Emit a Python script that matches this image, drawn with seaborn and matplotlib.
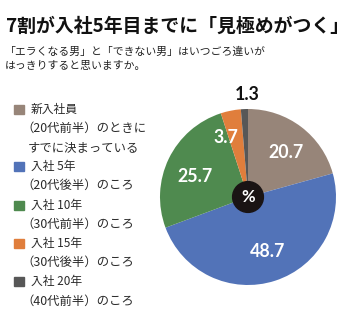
import numpy as np
import matplotlib
matplotlib.use("Agg")
import matplotlib.pyplot as plt
from matplotlib.patches import Rectangle, Circle
import seaborn as sns

# 「エラくなる男」と「できない男」の見極め時期（%）
categories = ["新入社員", "入社 5年", "入社 10年", "入社 15年", "入社 20年"]
sublabels = ["（20代前半）のときに\nすでに決まっている", "（20代後半）のころ",
             "（30代前半）のころ", "（30代後半）のころ", "（40代前半）のころ"]
values = [20.7, 48.7, 25.7, 3.7, 1.3]
colors = ["#978579", "#5273b8", "#4f8a4f", "#e07e3c", "#575757"]

title = "7割が入社5年目までに「見極めがつく」"
subtitle = "「エラくなる男」と「できない男」はいつごろ違いが\nはっきりすると思いますか。"

sns.set_theme(style="white")
plt.rcParams["font.family"] = ["Noto Sans CJK JP", "DejaVu Sans"]

W, H = 350, 324
fig = plt.figure(figsize=(W / 100, H / 100), dpi=100)
fig.patch.set_facecolor("white")


def fx(px):
    return px / W


def fy(py):
    return 1 - py / H


# Title and question
fig.text(fx(6), fy(26), title, fontsize=13.6, fontweight="bold", color="#111111",
         va="center", ha="left")
fig.text(fx(5), fy(59), subtitle, fontsize=7.8, color="#222222", va="center",
         ha="left", linespacing=1.45)

# Pie
cx, cy, r = 248, 197, 88
ax = fig.add_axes([fx(cx - r), fy(cy + r), 2 * r / W, 2 * r / H])
wedges, _ = ax.pie(values, colors=colors, startangle=90, counterclock=False,
                   radius=1.0, wedgeprops=dict(linewidth=0))
ax.set_xlim(-1, 1)
ax.set_ylim(-1, 1)
ax.set_aspect("auto")
ax.axis("off")

label_r = [0.66, 0.66, 0.65, 0.72, 1.16]
label_shift = [-3, 2, 5, 9, -2]
for w, v, lr, sh in zip(wedges, values, label_r, label_shift):
    ang = np.deg2rad((w.theta1 + w.theta2) / 2 + sh)
    x, y = lr * np.cos(ang), lr * np.sin(ang)
    col = "#111111" if lr > 1 else "white"
    ax.text(x, y, f"{v:.1f}", ha="center", va="center", fontsize=12.8,
            fontweight="bold", color=col, family=["Lato", "DejaVu Sans"])

ax.add_patch(Circle((0, 0), 0.175, color="#1a1414", zorder=5))
ax.text(0, 0.0, "%", ha="center", va="center", fontsize=12, fontweight="bold",
        color="white", zorder=6, family=["Lato", "DejaVu Sans"])

# Legend
y0 = 109
step = 19.2
row = 0
for cat, sub, col in zip(categories, sublabels, colors):
    yy = y0 + row * step
    fig.patches.append(Rectangle((fx(14), fy(yy + 4.5)), 10 / W, 9 / H,
                                 transform=fig.transFigure, color=col))
    fig.text(fx(31), fy(yy), cat, fontsize=8.5, color="#2a2a2a", va="center",
             ha="left")
    row += 1
    for line in sub.split("\n"):
        yy = y0 + row * step
        xx = 21 if line.startswith("（") else 28
        fig.text(fx(xx), fy(yy), line, fontsize=8.9, color="#2a2a2a",
                 va="center", ha="left")
        row += 1

fig.savefig("out.png", dpi=100, facecolor="white")
